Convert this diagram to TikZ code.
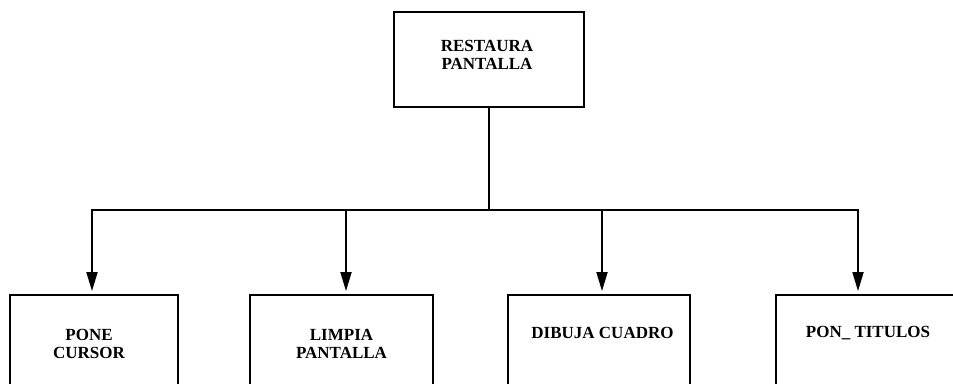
\documentclass[tikz,border=0pt]{standalone}
\usepackage{fontspec}
\setmainfont{Liberation Serif}
\usetikzlibrary{arrows.meta}

\begin{document}
\begin{tikzpicture}[x=1pt,y=-1pt,line width=1.8pt,
    caja/.style={draw,rectangle,inner sep=0pt},
    rotulo/.style={inner sep=0pt,align=center,
      font=\fontsize{17}{18}\selectfont\bfseries},
    >={Triangle[length=19pt,width=11pt]}]
  \useasboundingbox (0,0) rectangle (953,383);
  \clip (0,0) rectangle (953,383);
  % modulo principal
  \node[caja,minimum width=190pt,minimum height=95pt] (restaura) at (489,59.5) {};
  \node[rotulo] (trestaura) at (487,54.5) {RESTAURA\\PANTALLA};
  % submodulos (cortados por abajo)
  \node[caja,minimum width=168pt,minimum height=105pt] (pone) at (94,347.5) {};
  \node[caja,minimum width=183pt,minimum height=105pt] (limpia) at (341.5,347.5) {};
  \node[caja,minimum width=182pt,minimum height=105pt] (dibuja) at (599,347.5) {};
  \node[caja,minimum width=194pt,minimum height=105pt] (pontit) at (873,347.5) {};
  \node[rotulo] (tpone) at (89,343.5) {PONE\\CURSOR};
  \node[rotulo] (tlimpia) at (341.5,343.5) {LIMPIA\\PANTALLA};
  \node[rotulo,anchor=base] (tdibuja) at (602.5,338) {DIBUJA CUADRO};
  \node[rotulo,anchor=base] (tpontit) at (868,337) {PON\_ TITULOS};
  % conexiones
  \coordinate (bus) at (489,210);
  \draw (restaura.south) -- (bus);
  \foreach \hijo/\dx in {pone/-2,limpia/4.5,dibuja/3,pontit/-15}
    \draw[->,shorten >=3pt] (bus) -| ([xshift=\dx pt]\hijo.north);
\end{tikzpicture}
\end{document}
